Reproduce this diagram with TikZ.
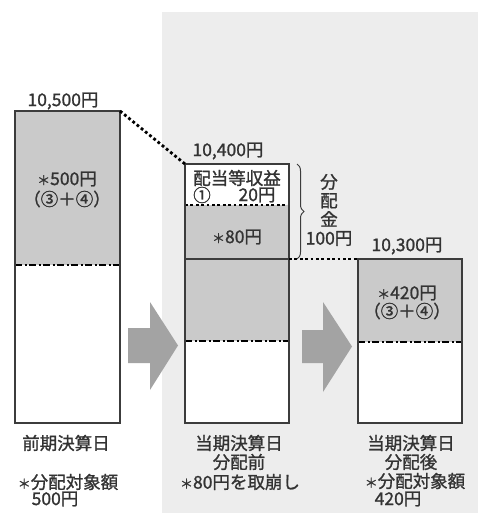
\documentclass[tikz,border=0pt]{standalone}
\usepackage{fontspec}
\setmainfont{Noto Sans CJK JP}[FakeBold=1.2]
\usetikzlibrary{decorations.pathreplacing}

% asterisco piccolo
\newcommand{\stellina}{{\fontsize{13}{13}\selectfont ＊}}

\begin{document}
\begin{tikzpicture}[x=1pt,y=-1pt,
  lab/.style={font=\fontsize{17.5}{19}\selectfont, text=textGray, inner sep=0pt},
  contorno/.style={draw=boxGray, line width=1.4pt},
  puntini/.style={line width=2.8pt, dash pattern=on 2.8pt off 2.6pt},
  trattopunto/.style={line width=1.6pt, dash pattern=on 7pt off 2.5pt on 2pt off 2.5pt}]

% Colori
\definecolor{bgGray}{HTML}{EDEDED}
\definecolor{fillGray}{HTML}{CACACA}
\definecolor{arrowGray}{HTML}{A3A3A3}
\definecolor{boxGray}{HTML}{3C3C3C}
\definecolor{textGray}{HTML}{333333}

\useasboundingbox (0,0) rectangle (478,513);

% Sfondo del periodo corrente
\fill[bgGray] (162,12) rectangle (478,513);

% Angoli dei rettangoli
\coordinate (b1nw) at (15,111);  \coordinate (b1ne) at (120,111);
\coordinate (b2nw) at (185,164); \coordinate (b2ne) at (289,164);
\coordinate (b2cut) at (289,259);
\coordinate (b3nw) at (358,259); \coordinate (b3ne) at (462,259);

% Frecce grandi
\fill[arrowGray] (128,328) -- (150,328) -- (150,302) -- (178,345.5)
  -- (150,390) -- (150,363) -- (128,363) -- cycle;
\fill[arrowGray] (302,330) -- (323,330) -- (323,302) -- (352,346.5)
  -- (323,392) -- (323,363) -- (302,363) -- cycle;

% Rettangolo 1 - precedente
\fill[white] (15,111) rectangle (120,423);
\fill[fillGray] (15,111) rectangle (120,265);
\draw[trattopunto] (15,265) -- (120,265);
\draw[contorno] (15,111) rectangle (120,423);

% Rettangolo 2 - prima della distribuzione
\fill[white] (185,164) rectangle (289,423);
\fill[fillGray] (185,205) rectangle (289,341);
\draw[puntini] (185,205) -- (289,205);
\draw[boxGray, line width=1.4pt] (185,259) -- (289,259);
\draw[trattopunto] (185,341) -- (289,341);
\draw[contorno] (185,164) rectangle (289,423);

% Rettangolo 3 - dopo la distribuzione
\fill[white] (358,259) rectangle (462,423);
\fill[fillGray] (358,259) rectangle (462,342);
\draw[trattopunto] (358,342) -- (462,342);
\draw[contorno] (358,259) rectangle (462,423);

% Collegamenti tratteggiati
\draw[puntini] (b1ne) -- (b2nw);
\draw[puntini] (b2cut) -- (b3nw);

% Graffa del dividendo
\draw[boxGray, line width=1pt, decorate, decoration={brace, amplitude=7pt}]
  (297,164) -- (297,259);

% Etichette sopra i rettangoli
\node[lab] (v1) at (63,101) {10,500円};
\node[lab] (v2) at (228,151) {10,400円};
\node[lab] (v3) at (407,246) {10,300円};

% Testi interni
\node[lab] (a1) at (67,179) {\stellina 500円};
\node[lab] (a2) at (67,199) {（③＋④）};
\node[lab] (ric) at (237,178) {配当等収益};
\node[lab] (uno) at (202,195) {①};
\node[lab] (venti) at (257,195) {20円};
\node[lab] (ottanta) at (237,237) {\stellina 80円};
\node[lab] (c1) at (407,293) {\stellina 420円};
\node[lab] (c2) at (407,311) {（③＋④）};

% Dividendo
\node[lab, align=center, font=\fontsize{17.5}{18.7}\selectfont] (div) at (329,210)
  {分\\配\\金\\100円};

% Didascalie in basso
\node[lab] (d1) at (66,443) {前期決算日};
\node[lab] (d1a) at (68,482) {\stellina 分配対象額};
\node[lab] (d1b) at (55,499) {500円};

\node[lab] (d2) at (239,443) {当期決算日};
\node[lab] (d2a) at (239,462) {分配前};
\node[lab] (d2b) at (240,482) {\stellina 80円を取崩し};

\node[lab] (d3) at (411,443) {当期決算日};
\node[lab] (d3a) at (411,462) {分配後};
\node[lab] (d3b) at (415,481) {\stellina 分配対象額};
\node[lab] (d3c) at (398,499) {420円};

\end{tikzpicture}
\end{document}
